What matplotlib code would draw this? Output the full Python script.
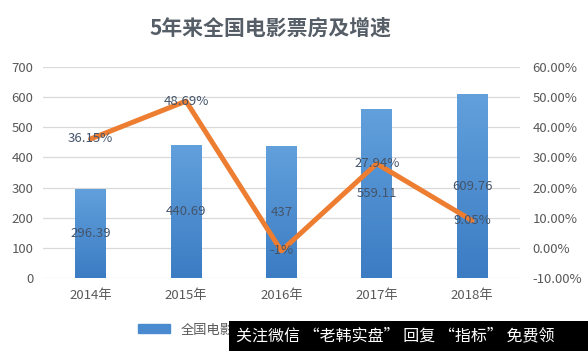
import numpy as np
import matplotlib
matplotlib.use("Agg")
import matplotlib.pyplot as plt
from matplotlib.lines import Line2D
from matplotlib.patches import Patch, Rectangle
from matplotlib.colors import LinearSegmentedColormap

plt.rcParams['font.family'] = ['Noto Sans CJK SC', 'DejaVu Sans']

years = ["2014年", "2015年", "2016年", "2017年", "2018年"]
box_office = [296.39, 440.69, 437, 559.11, 609.76]
growth = [36.15, 48.69, -1, 27.94, 9.05]
growth_labels = ["36.15%", "48.69%", "-1%", "27.94%", "9.05%"]

BAR = "#4a8bd0"
LINE = "#ed7d31"
TXT = "#595959"
GRID = "#d9d9d9"
grad = LinearSegmentedColormap.from_list("bar", ["#3b7cc3", "#62a0dc"])

fig = plt.figure(figsize=(5.88, 3.51), dpi=100)
fig.patch.set_facecolor("white")
ax = fig.add_axes([0.073, 0.208, 0.811, 0.601])
ax2 = ax.twinx()

x = np.arange(len(years))
bars = ax.bar(x, box_office, width=0.32, color="none", zorder=2)
ax.set_xlim(-0.5, len(years) - 0.5)
ax.set_ylim(0, 700)
# vertical gradient fill, clipped to each bar
for b in bars:
    x0, w, h = b.get_x(), b.get_width(), b.get_height()
    im = ax.imshow(np.linspace(0, 1, 100).reshape(-1, 1), cmap=grad, origin="lower",
                   extent=[x0, x0 + w, 0, h], aspect="auto", zorder=2)
    im.set_clip_path(b)
ax.set_xlim(-0.5, len(years) - 0.5)
ax.set_ylim(0, 700)
ax.set_yticks(range(0, 701, 100))
ax.grid(axis="y", color=GRID, lw=0.9, zorder=0)
ax.set_axisbelow(True)
ax.set_xticks(x)
ax.set_xticklabels(years)
for s in ax.spines.values():
    s.set_visible(False)
for s in ax2.spines.values():
    s.set_visible(False)
ax.tick_params(length=0, colors=TXT, labelsize=9.5)
ax.tick_params(axis="y", pad=7)
ax.tick_params(axis="x", pad=8)

for xi, v in zip(x, box_office):
    ax.text(xi, v / 2, f"{v:g}", ha="center", va="center", fontsize=9.5, color="#44546a", zorder=5)

ax2.plot(x, growth, color=LINE, lw=3.6, solid_capstyle="round", zorder=3)
ax2.set_ylim(-10, 60)
ax2.set_yticks(range(-10, 61, 10))
ax2.set_yticklabels([f"{t:.2f}%" for t in range(-10, 61, 10)])
ax2.tick_params(length=0, colors=TXT, labelsize=9.5, pad=9)
for xi, v, lab in zip(x, growth, growth_labels):
    ax2.text(xi, v, lab, ha="center", va="center", fontsize=9.5, color="#44546a", zorder=5)

fig.text(0.46, 0.92, "5年来全国电影票房及增速", ha="center", va="center",
         fontsize=15, fontweight="bold", color="#555d66")

handles = [Patch(color=BAR), Line2D([], [], color=LINE, lw=3)]
fig.legend(handles, ["全国电影票房（亿元）", "增速"], loc="center left",
           bbox_to_anchor=(0.215, 0.06), ncol=2, frameon=False, fontsize=9.5,
           labelcolor=TXT, handlelength=2.4, columnspacing=2)

# watermark box over the lower right
fig.add_artist(Rectangle((229 / 588, 0), 1 - 229 / 588, 30 / 351, transform=fig.transFigure,
                         facecolor="black", edgecolor="none", zorder=20))
fig.text(236 / 588, 15 / 351, "关注微信 “老韩实盘” 回复 “指标” 免费领", ha="left", va="center",
         fontsize=11.5, color="white", zorder=21)

fig.savefig("out.png", dpi=100, facecolor="white")
